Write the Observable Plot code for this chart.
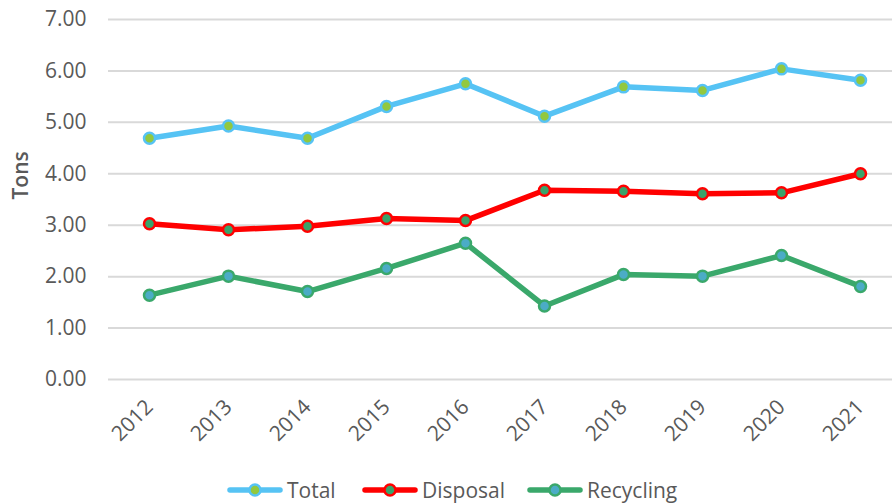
<!DOCTYPE html>
<html>
<head>
<meta charset="utf-8">
<script src="https://cdn.jsdelivr.net/npm/d3@7"></script>
<script src="https://cdn.jsdelivr.net/npm/@observablehq/plot@0.6"></script>
<style>
  html, body { margin: 0; padding: 0; background: #fff; }
  body { width: 892px; height: 503px; overflow: hidden; font-family: "Open Sans", sans-serif; }
  #legend { position: relative; height: 38px; }
  .item { position: absolute; top: 0; height: 50px; display: flex; align-items: center; color: #595959; font-size: 21px; }
  .item svg { margin-right: 4px; }
</style>
</head>
<body>
<div id="chart"></div>
<div id="legend"></div>
<script>
const years = ["2012","2013","2014","2015","2016","2017","2018","2019","2020","2021"];
const total = [4.69, 4.93, 4.69, 5.31, 5.75, 5.12, 5.69, 5.62, 6.04, 5.82];
const disposal = [3.03, 2.91, 2.98, 3.13, 3.09, 3.68, 3.66, 3.61, 3.63, 4.00];
const recycling = [1.64, 2.01, 1.71, 2.16, 2.65, 1.43, 2.04, 2.01, 2.41, 1.81];
const yTicks = [0, 1, 2, 3, 4, 5, 6, 7];
const seriesNames = ["Total", "Disposal", "Recycling"];

const styles = {
  Total: {line: "#56C3F4", fill: "#92C83E", stroke: "#56C3F4"},
  Disposal: {line: "#FF0000", fill: "#3AA36A", stroke: "#FF0000"},
  Recycling: {line: "#3AA86B", fill: "#4BACC6", stroke: "#3AA86B"}
};

const valuesBySeries = {Total: total, Disposal: disposal, Recycling: recycling};
const data = seriesNames.flatMap(s => years.map((y, i) => ({series: s, year: y, value: valuesBySeries[s][i]})));

const marks = [
  Plot.ruleY(yTicks, {stroke: "#d9d9d9", strokeWidth: 2}),
  Plot.axisY({ticks: yTicks, tickFormat: d3.format(".2f"), tickSize: 0, tickPadding: 22,
    fontSize: 21, fill: "#595959", label: null}),
  Plot.axisX({tickSize: 0, tickRotate: -45, tickPadding: 24, fontSize: 21, fill: "#595959", label: null}),
  Plot.text(["Tons"], {text: d => d, frameAnchor: "left", dx: -87, rotate: -90, fontSize: 21,
    fontWeight: 600, fill: "#595959"})
];
for (const s of seriesNames) {
  const d = data.filter(r => r.series === s);
  marks.push(Plot.line(d, {x: "year", y: "value", stroke: styles[s].line, strokeWidth: 5.5,
    strokeLinejoin: "round", strokeLinecap: "round"}));
}
for (const s of seriesNames) {
  const d = data.filter(r => r.series === s);
  marks.push(Plot.dot(d, {x: "year", y: "value", r: 5.5, fill: styles[s].fill, stroke: styles[s].stroke, strokeWidth: 2.5}));
}

const chart = Plot.plot({
  width: 892,
  height: 465,
  marginTop: 19,
  marginBottom: 86,
  marginLeft: 108,
  marginRight: 0,
  style: {fontFamily: "Open Sans, sans-serif", background: "#fff", overflow: "visible"},
  x: {type: "point", domain: years, range: [148, 861], padding: 0},
  y: {domain: [0, 7]},
  marks
});
document.getElementById("chart").appendChild(chart);

// legend
const legendPos = {Total: 227, Disposal: 362, Recycling: 527};
const legend = document.getElementById("legend");
for (const s of seriesNames) {
  const item = document.createElement("div");
  item.className = "item";
  item.style.left = legendPos[s] + "px";
  const st = styles[s];
  item.innerHTML = `<svg width="56" height="16"><line x1="3" y1="8" x2="53" y2="8" stroke="${st.line}" stroke-width="5.5" stroke-linecap="round"/><circle cx="28" cy="8" r="5.5" fill="${st.fill}" stroke="${st.stroke}" stroke-width="2.5"/></svg><span>${s}</span>`;
  legend.appendChild(item);
}
</script>
</body>
</html>
